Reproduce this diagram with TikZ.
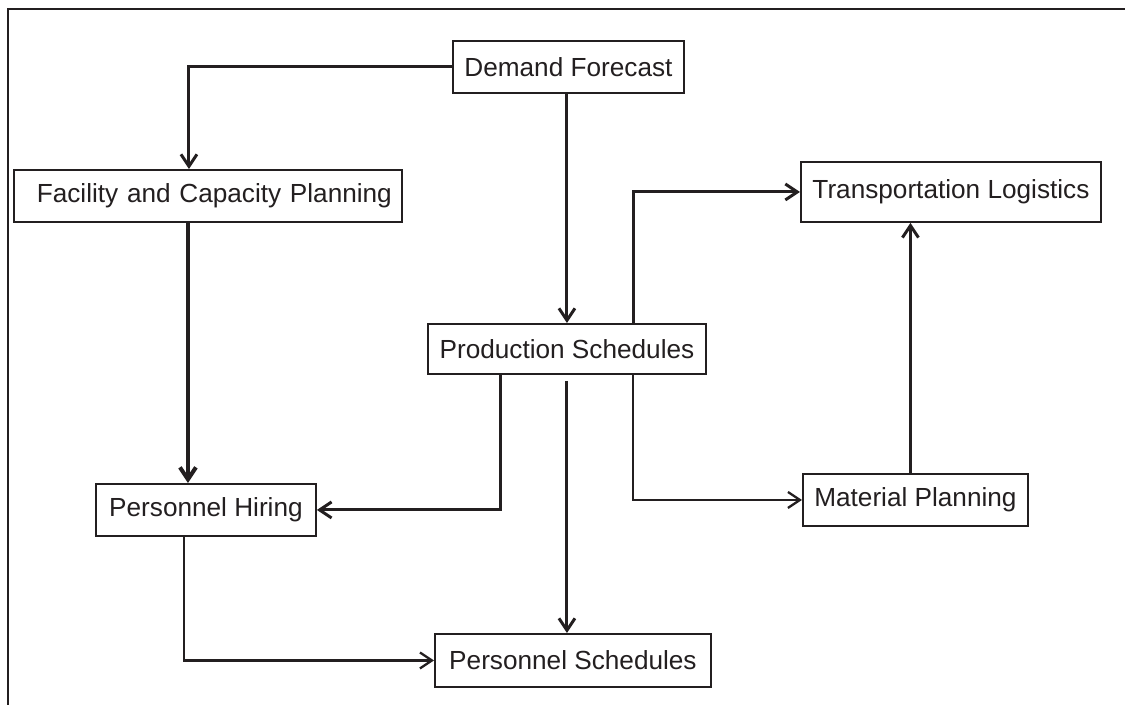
\documentclass[tikz,border=0pt]{standalone}
\usepackage{fontspec}
\setmainfont{Liberation Sans}
\usetikzlibrary{arrows.meta,positioning}
\definecolor{ink}{RGB}{35,31,32}

\begin{document}
\begin{tikzpicture}[x=0.02cm, y=-0.02cm,
    every node/.style={font=\fontsize{14.9}{18}\selectfont, text=ink},
    box/.style={draw=ink, line width=1.1pt, fill=white, anchor=north west,
        minimum height=1.04cm, inner xsep=0.2cm},
    link/.style={draw=ink, line width=1.7pt, -{Straight Barb[length=0.24cm,width=0.32cm]}},
    heavylink/.style={link, line width=2.3pt},
    lightlink/.style={link, line width=1.3pt}]
    \useasboundingbox (0,0) rectangle (1125,705);
    % frame
    \draw[ink, line width=1.1pt] (8,705) -- (8,9) -- (1125,9);

    \node[box, minimum width=4.62cm] (demand) at (452,40) {Demand Forecast};
    \node[box, text width=7.36cm, align=right] (facility) at (13,169) {Facility and Capacity Planning};
    \node[box, minimum width=6cm, minimum height=1.2cm] (transport) at (800,161) {Transportation Logistics};
    \node[box, minimum width=5.56cm, minimum height=1cm] (production) at (427,323) {Production Schedules};
    \node[box, minimum width=4.4cm] (hiring) at (95,483) {Personnel Hiring};
    \node[box, minimum width=4.5cm] (material) at (802,473) {Material Planning};
    \node[box, minimum width=5.52cm, minimum height=1.06cm] (schedules) at (434,633) {Personnel Schedules};

    \draw[link] (demand.west) -| ([xshift=-0.38cm]facility.north);
    \draw[link] (production.north |- demand.south) -- (production.north);
    \draw[heavylink] ([xshift=-0.4cm]facility.south) -- ([xshift=-0.4cm]facility.south |- hiring.north);
    \draw[link] ([xshift=-1.32cm]production.south) |- (hiring.east);
    \draw[link, shorten <=0.12cm] (production.south) -- (production.south |- schedules.north);
    \draw[link] ([xshift=1.34cm]production.north) |- (transport.west);
    \draw[lightlink] ([xshift=1.32cm]production.south) |- (material.west);
    \draw[link] ([xshift=-0.1cm]material.north) -- ([xshift=-0.1cm]material.north |- transport.south);
    \draw[lightlink] ([xshift=-0.44cm]hiring.south) |- (schedules.west);
\end{tikzpicture}
\end{document}
